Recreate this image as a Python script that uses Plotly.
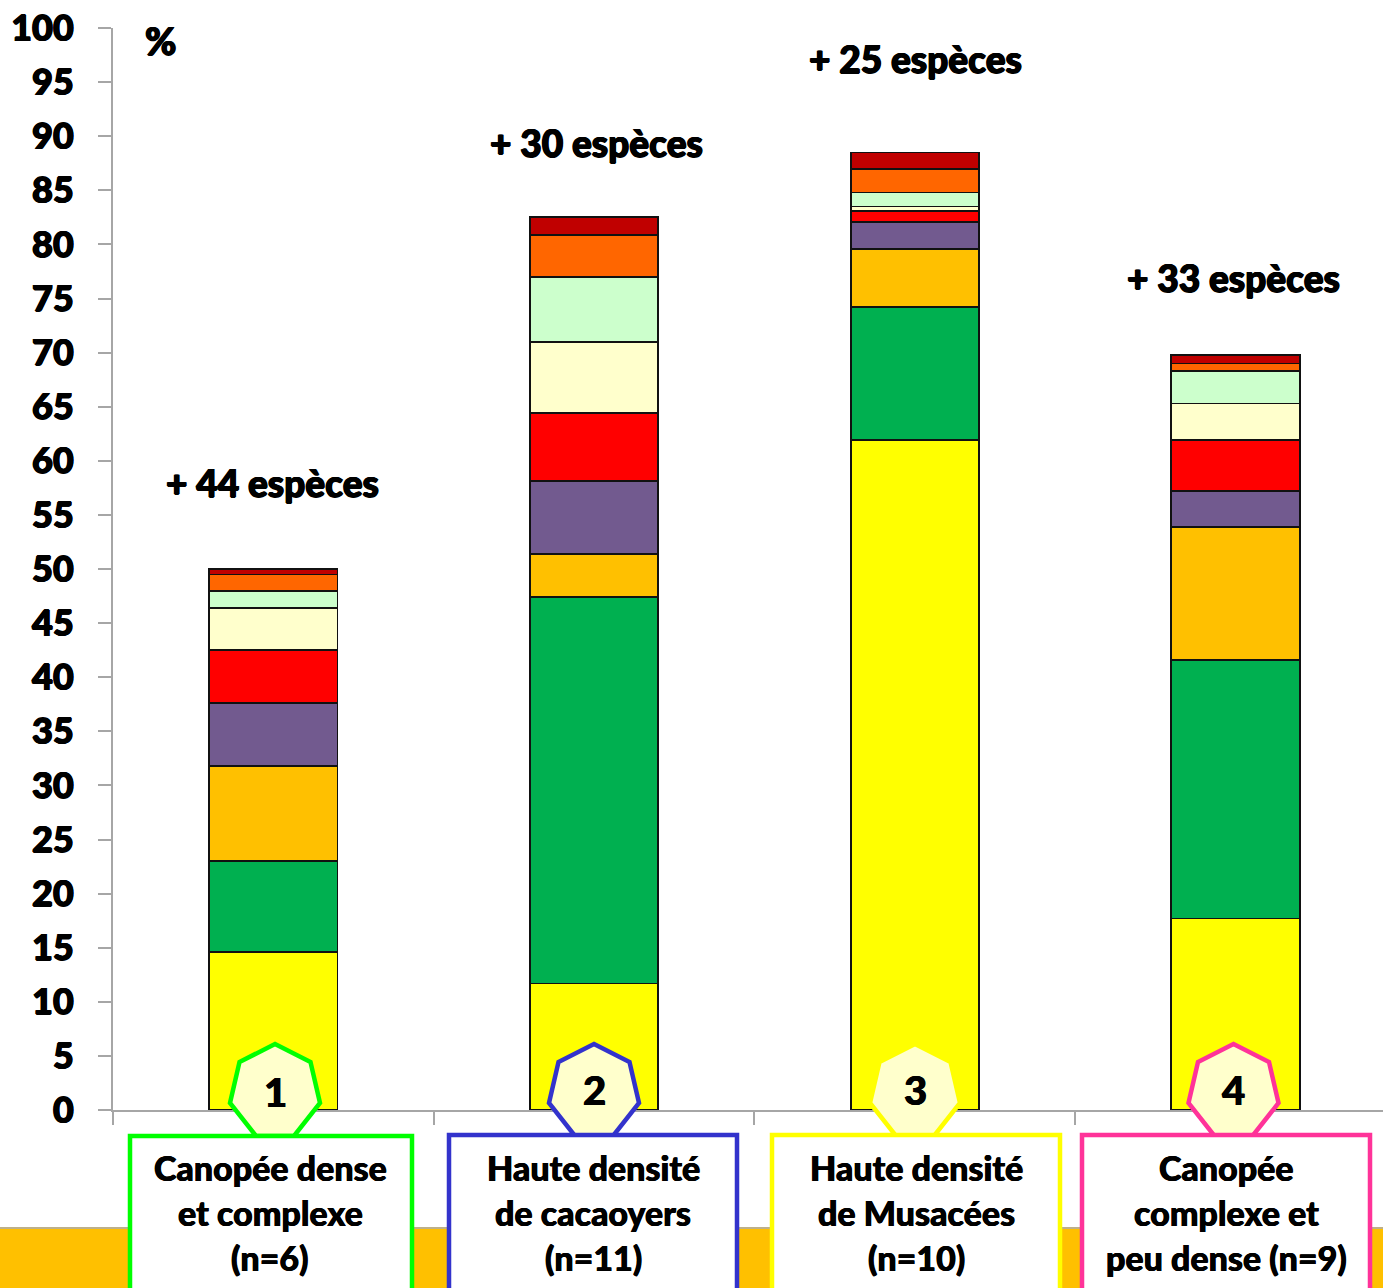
import plotly.graph_objects as go

# Stand types and the number of plots surveyed in each
categories = ["Canopée dense et complexe", "Haute densité de cacaoyers",
              "Haute densité de Musacées", "Canopée complexe et peu dense"]
box_lines = [["Canopée dense", "et complexe", "(n=6)"],
             ["Haute densité", "de cacaoyers", "(n=11)"],
             ["Haute densité", "de Musacées", "(n=10)"],
             ["Canopée", "complexe et", "peu dense (n=9)"]]
species_notes = ["+ 44 espèces", "+ 30 espèces", "+ 25 espèces", "+ 33 espèces"]
y_ticks = list(range(0, 101, 5))

# Share of each species group per stand (%), bottom to top
yellow = [14.6, 11.7, 61.9, 17.7]
green = [8.4, 35.7, 12.3, 23.9]
gold = [8.8, 4.0, 5.4, 12.3]
purple = [5.8, 6.7, 2.5, 3.3]
red = [4.9, 6.3, 1.0, 4.7]
cream = [3.9, 6.6, 0.4, 3.4]
pale_green = [1.6, 6.0, 1.3, 3.0]
orange = [1.5, 3.9, 2.2, 0.7]
dark_red = [0.5, 1.6, 1.5, 0.8]

series = [("yellow", yellow, "#FFFF00"), ("green", green, "#00B050"),
          ("gold", gold, "#FFC000"), ("purple", purple, "#725A8F"),
          ("red", red, "#FF0000"), ("cream", cream, "#FFFFCC"),
          ("pale green", pale_green, "#CCFFCC"), ("orange", orange, "#FF6600"),
          ("dark red", dark_red, "#C00000")]

FONT = "Lato"
THICK = "0.7px 0 0 black, -0.7px 0 0 black, 0 0.5px 0 black, 0 -0.5px 0 black"
THIN = "0.4px 0 0 black, -0.4px 0 0 black"
L, R, T, B = 113, 1383, 28, 1110
W, H = 1383, 1288


# Page pixels to paper fractions of the plot area
def px(x):
    return (x - L) / (R - L)


def py(y):
    return (B - y) / (B - T)


def text(x, y, s, size, shadow=THIN):
    return dict(xref="paper", yref="paper", x=px(x), y=py(y), text=s, showarrow=False,
                xanchor="center", yanchor="middle",
                font=dict(family=FONT, size=size, color="black", weight=900, shadow=shadow))


fig = go.Figure()
for name, values, color in series:
    fig.add_bar(x=categories, y=values, name=name, marker_color=color,
                marker_line=dict(color="#111111", width=1.8), showlegend=False)

shapes = [dict(type="rect", xref="paper", yref="paper", x0=px(0), x1=px(W), y0=py(1228), y1=py(W),
               fillcolor="#FFC000", line=dict(width=0), layer="below"),
          dict(type="line", xref="paper", yref="paper", x0=px(0), x1=px(W), y0=py(1228), y1=py(1228),
               line=dict(color="#BDB08A", width=2), layer="below")]

badge_centers = [275, 594, 915, 1233.5]
box_edges = [(130, 412, 1136), (449, 737, 1135), (772, 1060, 1135), (1082, 1370, 1135)]
accents = ["#00FF00", "#3333CC", "#FFFF00", "#FF3399"]
heptagon = [(0, 1044), (35.5, 1062), (45, 1103), (19, 1136), (-19, 1136), (-45, 1103), (-35.5, 1062)]

for cx, accent in zip(badge_centers, accents):
    path = "M" + " L".join(f"{px(cx + dx):.5f},{py(y):.5f}" for dx, y in heptagon) + " Z"
    shapes.append(dict(type="path", xref="paper", yref="paper", path=path, fillcolor="#FFFFCC",
                       line=dict(color=accent, width=4.5)))
for (x0, x1, top), accent in zip(box_edges, accents):
    shapes.append(dict(type="rect", xref="paper", yref="paper", x0=px(x0), x1=px(x1), y0=py(1300), y1=py(top),
                       fillcolor="white", line=dict(color=accent, width=4.5)))

annotations = [text(160, 40, "%", 38, THICK)]
for s, x, y in zip(species_notes, [272, 596, 915, 1233], [482, 142, 58, 277]):
    annotations.append(text(x, y, s, 37, THICK))
for i, (cx, dy) in enumerate(zip(badge_centers, [1092, 1090, 1090, 1090])):
    annotations.append(text(cx, dy, str(i + 1), 40))
for lines, cx in zip(box_lines, [270, 593, 916, 1226]):
    for line, y in zip(lines, [1167, 1212, 1257]):
        annotations.append(text(cx, y, line, 34))

fig.update_layout(
    barmode="stack", bargap=0.6, width=W, height=H, autosize=False,
    margin=dict(l=L, r=W - R, t=T, b=H - B, pad=0),
    paper_bgcolor="white", plot_bgcolor="white",
    shapes=shapes, annotations=annotations,
    xaxis=dict(type="category", range=[-0.5, 3.46], showticklabels=False, ticks="outside",
               tickson="boundaries", ticklen=13, tickwidth=2, tickcolor="#A6A6A6",
               showline=True, linecolor="#A6A6A6", linewidth=2, showgrid=False, zeroline=False),
    yaxis=dict(range=[0, 100], tickmode="array", tickvals=y_ticks, ticks="outside", ticklen=13,
               tickwidth=2, tickcolor="#A6A6A6", showline=True, linecolor="#A6A6A6", linewidth=2,
               showgrid=False, zeroline=False, ticklabelstandoff=17,
               tickfont=dict(family=FONT, size=36, color="black", weight=900, shadow=THICK)),
)

fig.write_html("out.html")
